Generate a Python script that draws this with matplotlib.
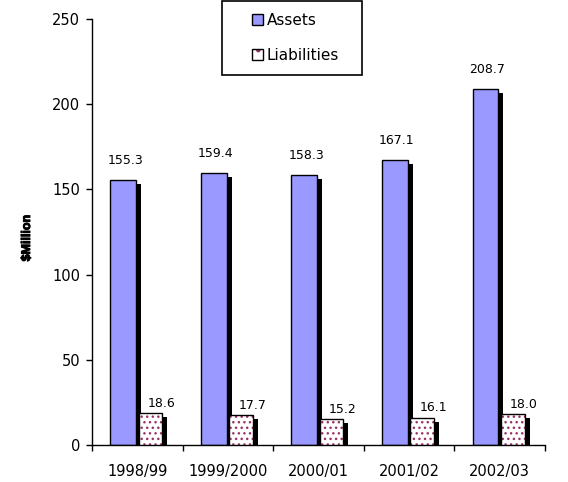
import matplotlib
matplotlib.use("Agg")
import matplotlib.pyplot as plt
import matplotlib.patheffects as pe
from matplotlib.patches import Patch, Rectangle
from matplotlib.legend_handler import HandlerPatch
import numpy as np

years = ["1998/99", "1999/2000", "2000/01", "2001/02", "2002/03"]
assets = [155.3, 159.4, 158.3, 167.1, 208.7]
liabilities = [18.6, 17.7, 15.2, 16.1, 18.0]

ASSET_COLOR = "#9999FF"
DOT_COLOR = "#993366"

plt.rcParams["font.family"] = ["DejaVu Sans"]
plt.rcParams["hatch.linewidth"] = 1.0

fig = plt.figure(figsize=(5.68, 4.82), dpi=100)
ax = fig.add_axes([92 / 568, 37 / 482, 453 / 568, 426 / 482])

x = np.arange(len(years))
a_left, a_w = -0.30, 0.285
l_left, l_w = 0.015, 0.26
sh_w, sh_drop = 0.055, 2.35

# drop shadows behind each bar
ax.bar(x + a_left + a_w, np.array(assets) - sh_drop, width=sh_w, align="edge",
       color="black", linewidth=0, zorder=1)
ax.bar(x + l_left + l_w, np.array(liabilities) - sh_drop, width=sh_w, align="edge",
       color="black", linewidth=0, zorder=1)

# assets
ax.bar(x + a_left, assets, width=a_w, align="edge", color=ASSET_COLOR,
       edgecolor="black", linewidth=1, zorder=2)

# liabilities: dotted fill then outline
ax.bar(x + l_left, liabilities, width=l_w, align="edge", facecolor="white",
       edgecolor=DOT_COLOR, linewidth=0, hatch="...", zorder=3)
ax.bar(x + l_left, liabilities, width=l_w, align="edge", fill=False,
       edgecolor="black", linewidth=1, zorder=4)

for xi, v in zip(x, assets):
    ax.annotate(f"{v:.1f}", (xi + a_left + a_w / 2, v), xytext=(1.5, 14.5),
                textcoords="offset points", ha="center", va="center", fontsize=9)
for xi, v in zip(x, liabilities):
    ax.annotate(f"{v:.1f}", (xi + l_left + l_w / 2, v), xytext=(8, 7),
                textcoords="offset points", ha="center", va="center", fontsize=9)

ax.set_xlim(-0.5, len(years) - 0.5)
ax.set_ylim(0, 250)
ax.set_yticks([0, 50, 100, 150, 200, 250])
ax.set_xticks(x)
ax.set_xticklabels(years)
ax.set_xticks(np.arange(len(years) + 1) - 0.5, minor=True)
ax.tick_params(axis="x", which="major", length=0, pad=14, labelsize=10.5)
ax.tick_params(axis="x", which="minor", length=4.5, width=1, direction="out")
ax.tick_params(axis="y", length=4.5, width=1, direction="out", pad=4, labelsize=10.5)
for s in ("top", "right"):
    ax.spines[s].set_visible(False)
for s in ("left", "bottom"):
    ax.spines[s].set_linewidth(1)

fig.text(27 / 568, 1 - 238 / 482, "$Million", rotation=90, ha="center", va="center",
         fontsize=9, fontweight="bold", family=["Liberation Sans", "DejaVu Sans"],
         path_effects=[pe.withStroke(linewidth=0.7, foreground="black")])


class SquareHandler(HandlerPatch):
    def create_artists(self, legend, orig_handle, xdescent, ydescent, width, height,
                       fontsize, trans):
        s = 8
        x0 = width - s - xdescent
        y0 = (height - s) / 2 - ydescent
        arts = []
        if orig_handle.get_hatch():
            fillp = Rectangle((x0, y0), s, s, facecolor="white", edgecolor=DOT_COLOR,
                              linewidth=0, hatch=".")
            fillp.set_transform(trans)
            arts.append(fillp)
            outp = Rectangle((x0, y0), s, s, fill=False, edgecolor="black", linewidth=1)
        else:
            outp = Rectangle((x0, y0), s, s, facecolor=orig_handle.get_facecolor(),
                             edgecolor="black", linewidth=1)
        outp.set_transform(trans)
        arts.append(outp)
        return arts


handles = [Patch(facecolor=ASSET_COLOR, edgecolor="black"),
           Patch(facecolor="white", edgecolor="black", hatch=".")]
leg = fig.legend(handles, ["Assets", "Liabilities"], loc="upper left",
                 bbox_to_anchor=(222 / 568, 1 - 76 / 482, 140 / 568, 75 / 482),
                 mode="expand", borderaxespad=0, fontsize=11, borderpad=0.8,
                 handlelength=1.9, handletextpad=0.22, labelspacing=1.31,
                 fancybox=False, framealpha=1,
                 handler_map={Patch: SquareHandler()})
leg.get_frame().set_edgecolor("black")
leg.get_frame().set_linewidth(1.2)

fig.savefig("out.png", dpi=100)
